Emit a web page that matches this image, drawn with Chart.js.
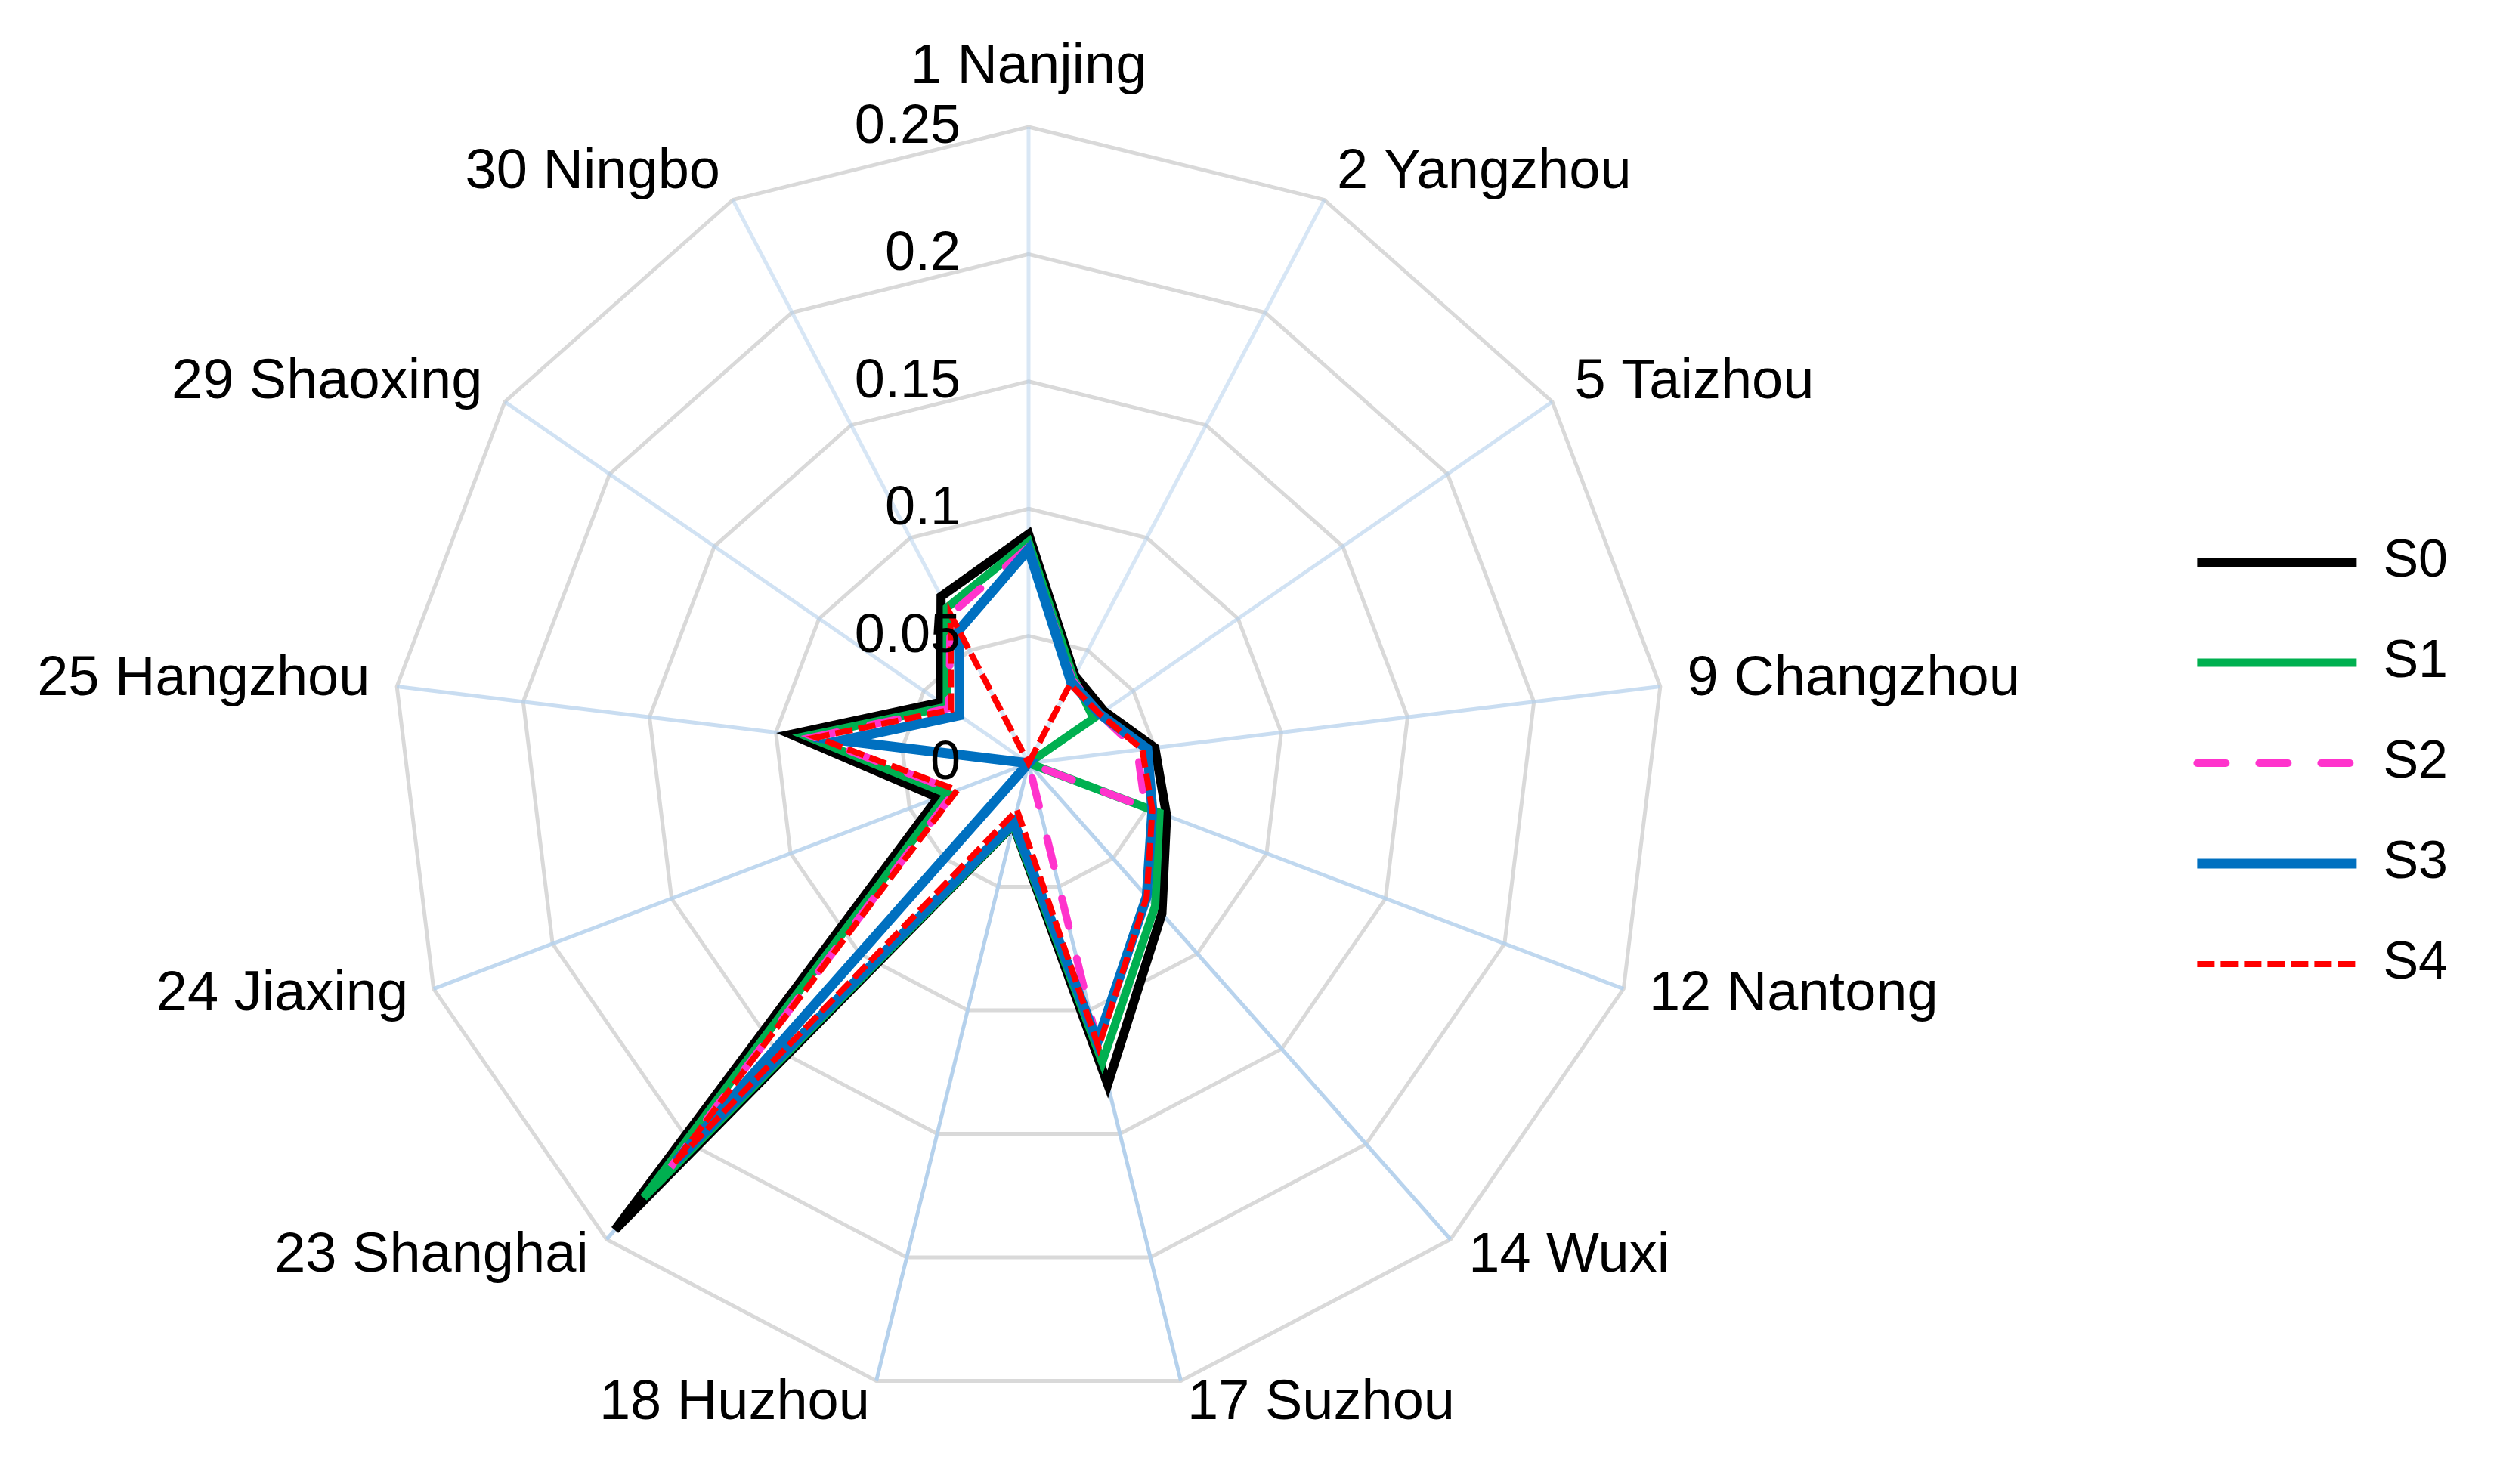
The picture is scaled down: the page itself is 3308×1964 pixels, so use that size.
<!DOCTYPE html>
<html>
<head>
<meta charset="utf-8">
<script src="https://cdn.jsdelivr.net/npm/chart.js@4.4.1/dist/chart.umd.min.js"></script>
<style>
  html, body { margin: 0; padding: 0; background: #ffffff; overflow: hidden; }
  /* canvas starts 122px left of the page so the radar centre lands where the legend leaves it */
  #wrap { position: absolute; left: -122px; top: 0; width: 3430px; height: 1964px; }
</style>
</head>
<body>
<div id="wrap"><canvas id="radar"></canvas></div>
<script>
const cities = ['1 Nanjing', '2 Yangzhou', '5 Taizhou', '9 Changzhou', '12 Nantong', '14 Wuxi',
  '17 Suzhou', '18 Huzhou', '23 Shanghai', '24 Jiaxing', '25 Hangzhou', '29 Shaoxing', '30 Ningbo'];
const tickLabels = ['0', '0.05', '0.1', '0.15', '0.2', '0.25'];

const s0 = [0.090, 0.039, 0.036, 0.050, 0.058, 0.079, 0.130, 0.025, 0.245, 0.038, 0.094, 0.042, 0.074];
const s1 = [0.087, 0.038, 0.031, 0, 0.055, 0.075, 0.121, 0.025, 0.228, 0.034, 0.088, 0.039, 0.069];
const s2 = [0.085, 0.037, 0.034, 0.043, 0.049, 0, 0.113, 0.024, 0.212, 0.031, 0.085, 0.038, 0.066];
const s3 = [0.084, 0.036, 0.034, 0.047, 0.052, 0.070, 0.113, 0.024, 0.209, 0, 0.074, 0.033, 0.059];
const s4 = [0, 0.035, 0.034, 0.045, 0.052, 0.070, 0.115, 0.019, 0.210, 0.030, 0.084, 0.037, 0.066];

(function(){
    const FONT = '"Liberation Sans", Arial, sans-serif';

    // axis values and city names are drawn as text on top of the lines
    const radarText = {
        id: 'radarText',
        afterDatasetsDraw(chart) {
            const scale = chart.scales.r;
            const ctx = chart.ctx;
            ctx.save();
            ctx.fillStyle = '#000000';
            ctx.textBaseline = 'alphabetic';

            ctx.font = '72px ' + FONT;
            ctx.textAlign = 'right';
            scale.ticks.forEach((tick, i) => {
                const y = scale.yCenter - scale.getDistanceFromCenterForValue(tick.value);
                ctx.fillText(tickLabels[i] || tick.label, scale.xCenter - 90, y + 21);
            });

            ctx.font = '74px ' + FONT;
            cities.forEach((name, i) => {
                const p = scale.getPointPosition(i, scale.drawingArea);
                const dx = (p.x - scale.xCenter) / scale.drawingArea;
                const dy = (p.y - scale.yCenter) / scale.drawingArea;
                const x = p.x + dx * 36;
                let y = p.y + dy * 36 - 10;
                if (Math.abs(dx) < 0.01) {
                    ctx.textAlign = 'center';
                    y -= 38;
                } else {
                    ctx.textAlign = dx > 0 ? 'left' : 'right';
                }
                ctx.fillText(name, x, y + 26);
            });
            ctx.restore();
        }
    };

    // spokes are paler towards the top
    const spokeColor = (c) => {
        const a = (c.index || 0) * 2 * Math.PI / cities.length;
        const alpha = 0.5 + 0.5 * (1 - Math.cos(a)) / 2;
        return 'rgba(180, 208, 236, ' + alpha.toFixed(2) + ')';
    };

    const datasets = [
        { label: 'S0', data: s0, borderColor: '#000000', borderWidth: 12, order: 5 },
        { label: 'S1', data: s1, borderColor: '#00b050', borderWidth: 11, order: 4 },
        { label: 'S2', data: s2, borderColor: '#ff33cc', borderWidth: 10, borderDash: [38, 44], borderCapStyle: 'round', order: 3 },
        { label: 'S3', data: s3, borderColor: '#0070c0', borderWidth: 13, order: 2 },
        { label: 'S4', data: s4, borderColor: '#ff0000', borderWidth: 8, borderDash: [23, 8], order: 1 }
    ].map(d => Object.assign({ fill: false, backgroundColor: 'rgba(0,0,0,0)', pointRadius: 0, pointHoverRadius: 0 }, d));

    const chart = new Chart(document.getElementById('radar'), {
        type: 'radar',
        data: { labels: cities, datasets: datasets },
        options: {
            responsive: true,
            maintainAspectRatio: false,
            animation: false,
            layout: { padding: { left: 0, right: 59, top: 168, bottom: 112 } },
            elements: { line: { tension: 0 } },
            scales: {
                r: {
                    min: 0,
                    max: 0.25,
                    ticks: { display: false, stepSize: 0.05 },
                    pointLabels: { display: false },
                    grid: { circular: false, color: '#d9d9d9', lineWidth: 5 },
                    angleLines: { color: spokeColor, lineWidth: 5 }
                }
            },
            plugins: {
                tooltip: { enabled: false },
                legend: {
                    position: 'right',
                    labels: {
                        usePointStyle: true,
                        pointStyle: 'line',
                        pointStyleWidth: 211,
                        padding: 63,
                        color: '#000000',
                        font: { family: FONT, size: 70 },
                        generateLabels(ch) {
                            return ch.data.datasets.map((ds, i) => ({
                                text: ds.label,
                                datasetIndex: i,
                                hidden: false,
                                fontColor: '#000000',
                                strokeStyle: ds.borderColor,
                                fillStyle: ds.borderColor,
                                lineWidth: ds.borderWidth,
                                lineDash: ds.borderDash || [],
                                lineCap: ds.borderCapStyle || 'butt',
                                pointStyle: 'line'
                            }));
                        }
                    }
                }
            }
        },
        plugins: [radarText]
    });

    window.radarChart = chart;
})();
</script>
</body>
</html>
